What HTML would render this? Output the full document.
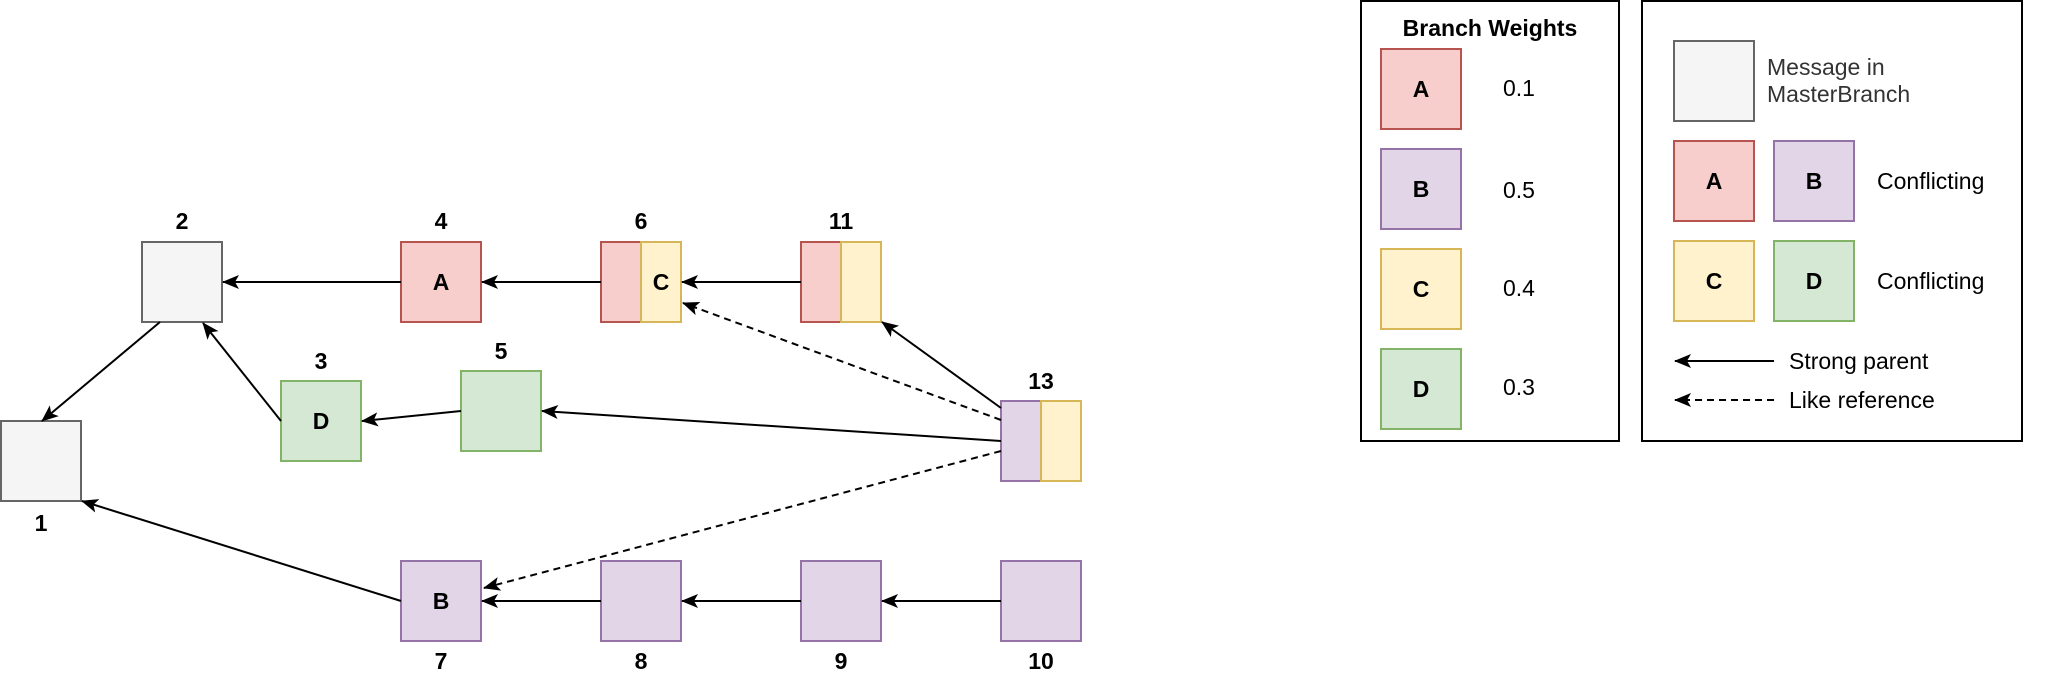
<!DOCTYPE html>
<html><head><meta charset="utf-8"><style>
html,body{margin:0;padding:0;background:#fff;}
svg{display:block;}
text{font-family:"Liberation Sans",Arial,sans-serif;}
</style></head><body>
<svg width="2056" height="684" viewBox="0 0 2056 684" xmlns="http://www.w3.org/2000/svg">
<defs>
<marker id="a2" markerWidth="18" markerHeight="16" refX="16" refY="8" orient="auto" markerUnits="userSpaceOnUse">
<path d="M0,1 L17,8 L0,15 L4,8 Z" fill="#000"/>
</marker>
</defs>
<g fill="none" stroke-width="2">
<rect x="1" y="421" width="80" height="80" fill="#f5f5f5" stroke="#666"/>
<rect x="142" y="242" width="80" height="80" fill="#f5f5f5" stroke="#666"/>
<rect x="281" y="381" width="80" height="80" fill="#d5e8d4" stroke="#82b366"/>
<rect x="401" y="242" width="80" height="80" fill="#f8cecc" stroke="#b85450"/>
<rect x="461" y="371" width="80" height="80" fill="#d5e8d4" stroke="#82b366"/>
<rect x="601" y="242" width="40" height="80" fill="#f8cecc" stroke="#b85450"/>
<rect x="641" y="242" width="40" height="80" fill="#fff2cc" stroke="#d6b656"/>
<rect x="801" y="242" width="40" height="80" fill="#f8cecc" stroke="#b85450"/>
<rect x="841" y="242" width="40" height="80" fill="#fff2cc" stroke="#d6b656"/>
<rect x="1001" y="401" width="40" height="80" fill="#e1d5e7" stroke="#9673a6"/>
<rect x="1041" y="401" width="40" height="80" fill="#fff2cc" stroke="#d6b656"/>
<rect x="401" y="561" width="80" height="80" fill="#e1d5e7" stroke="#9673a6"/>
<rect x="601" y="561" width="80" height="80" fill="#e1d5e7" stroke="#9673a6"/>
<rect x="801" y="561" width="80" height="80" fill="#e1d5e7" stroke="#9673a6"/>
<rect x="1001" y="561" width="80" height="80" fill="#e1d5e7" stroke="#9673a6"/>
</g>
<g stroke="#000" stroke-width="2" fill="none" marker-end="url(#a2)">
<line x1="401" y1="282" x2="223" y2="282"/>
<line x1="601" y1="282" x2="482" y2="282"/>
<line x1="801" y1="282" x2="682" y2="282"/>
<line x1="160" y1="322" x2="42" y2="421"/>
<line x1="281" y1="421" x2="203" y2="323"/>
<line x1="461" y1="411" x2="362" y2="421"/>
<line x1="1001" y1="441" x2="542" y2="411"/>
<line x1="401" y1="601" x2="82" y2="501"/>
<line x1="601" y1="601" x2="482" y2="601"/>
<line x1="801" y1="601" x2="682" y2="601"/>
<line x1="1001" y1="601" x2="882" y2="601"/>
<line x1="1001" y1="408" x2="882" y2="322"/>
<line x1="1001" y1="420" x2="683" y2="303" stroke-dasharray="7,5"/>
<line x1="1001" y1="451" x2="484" y2="588" stroke-dasharray="7,5"/>
</g>
<g font-weight="bold" font-size="23" text-anchor="middle" fill="#000">
<text x="182" y="229">2</text>
<text x="41" y="531">1</text>
<text x="321" y="369">3</text>
<text x="441" y="229">4</text>
<text x="501" y="359">5</text>
<text x="641" y="229">6</text>
<text x="841" y="229">11</text>
<text x="1041" y="389">13</text>
<text x="441" y="669">7</text>
<text x="641" y="669">8</text>
<text x="841" y="669">9</text>
<text x="1041" y="669">10</text>
<text x="441" y="290">A</text>
<text x="661" y="290">C</text>
<text x="321" y="429">D</text>
<text x="441" y="609">B</text>
</g>
<!-- legend 1 -->
<rect x="1361" y="1" width="258" height="440" fill="none" stroke="#000" stroke-width="2"/>
<text x="1490" y="36" font-weight="bold" font-size="23" text-anchor="middle">Branch Weights</text>
<g stroke-width="2">
<rect x="1381" y="49" width="80" height="80" fill="#f8cecc" stroke="#b85450"/>
<rect x="1381" y="149" width="80" height="80" fill="#e1d5e7" stroke="#9673a6"/>
<rect x="1381" y="249" width="80" height="80" fill="#fff2cc" stroke="#d6b656"/>
<rect x="1381" y="349" width="80" height="80" fill="#d5e8d4" stroke="#82b366"/>
</g>
<g font-weight="bold" font-size="23" text-anchor="middle">
<text x="1421" y="97">A</text><text x="1421" y="197">B</text><text x="1421" y="297">C</text><text x="1421" y="397">D</text>
</g>
<g font-size="23">
<text x="1503" y="96">0.1</text><text x="1503" y="198">0.5</text><text x="1503" y="296">0.4</text><text x="1503" y="395">0.3</text>
</g>
<!-- legend 2 -->
<rect x="1642" y="1" width="380" height="440" fill="none" stroke="#000" stroke-width="2"/>
<g stroke-width="2">
<rect x="1674" y="41" width="80" height="80" fill="#f5f5f5" stroke="#666"/>
<rect x="1674" y="141" width="80" height="80" fill="#f8cecc" stroke="#b85450"/>
<rect x="1774" y="141" width="80" height="80" fill="#e1d5e7" stroke="#9673a6"/>
<rect x="1674" y="241" width="80" height="80" fill="#fff2cc" stroke="#d6b656"/>
<rect x="1774" y="241" width="80" height="80" fill="#d5e8d4" stroke="#82b366"/>
</g>
<g font-weight="bold" font-size="23" text-anchor="middle">
<text x="1714" y="189">A</text><text x="1814" y="189">B</text><text x="1714" y="289">C</text><text x="1814" y="289">D</text>
</g>
<g font-size="23" fill="#333">
<text x="1767" y="75">Message in</text>
<text x="1767" y="102">MasterBranch</text>
</g>
<g font-size="23">
<text x="1877" y="189">Conflicting</text>
<text x="1877" y="289">Conflicting</text>
<text x="1789" y="369">Strong parent</text>
<text x="1789" y="408">Like reference</text>
</g>
<g stroke="#000" stroke-width="2" marker-end="url(#a2)">
<line x1="1774" y1="361" x2="1675" y2="361"/>
<line x1="1774" y1="400" x2="1675" y2="400" stroke-dasharray="7,5"/>
</g>
</svg>
</body></html>
